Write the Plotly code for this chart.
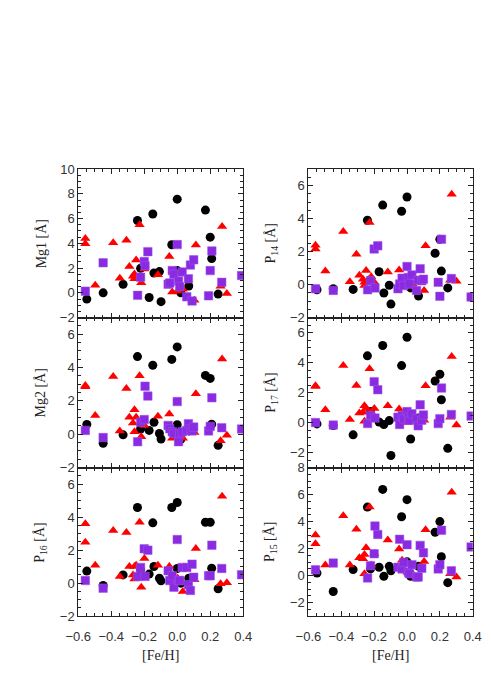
import plotly.graph_objects as go

# ---------------- data ----------------
circ_feh = [-0.548, -0.449, -0.328, -0.241, -0.222, -0.170, -0.148, -0.141, -0.108, -0.098,
            -0.033, 0.000, 0.000, 0.022, 0.070, 0.171, 0.200, 0.209, 0.248]
tri_feh = [-0.557, -0.557, -0.497, -0.388, -0.348, -0.308, -0.290, -0.268, -0.259, -0.259,
           -0.249, -0.228, -0.218, -0.199, -0.117, -0.048, -0.030, 0.003, 0.034, 0.104,
           0.113, 0.263, 0.272, 0.301]
sq_feh = [-0.557, -0.449, -0.240, -0.222, -0.200, -0.195, -0.178, -0.055, -0.045, -0.030,
          -0.020, 0.000, 0.008, 0.015, 0.030, 0.058, 0.068, 0.080, 0.090, 0.100,
          0.190, 0.200, 0.210, 0.270, 0.390]

mg1_circ = [-0.50, 0.00, 0.69, 5.85, 1.98, -0.37, 6.37, 1.61, 1.72, -0.71,
            3.89, 7.57, 1.80, 0.00, 0.56, 6.69, 4.50, 2.77, -0.10]
mg1_tri = [4.39, 3.97, 0.61, 4.05, 1.19, 4.26, 2.14, 1.35, 1.53, 1.14,
           2.65, 5.50, 0.82, 1.93, 1.46, 2.94, 0.08, 0.16, 0.30, -0.60,
           3.86, 0.53, 5.37, -0.05]
mg1_sq = [0.14, 2.43, -0.20, 1.27, 2.54, 2.20, 3.33, 0.70, 0.80, 1.80,
          1.50, 3.90, 0.95, 0.50, 1.69, -0.32, 1.14, 2.25, -0.66, 2.67,
          -0.24, 1.80, 3.39, 0.85, 1.40]

mg2_circ = [0.59, -0.55, -0.04, 4.66, 0.31, 0.23, 4.14, 0.72, 0.04, -0.29,
            4.49, 5.24, 0.57, -0.30, 0.20, 3.53, 3.35, 0.60, -0.67]
mg2_tri = [2.92, 2.85, 1.12, 3.47, 0.19, 2.74, 1.02, 0.68, 1.47, 0.14,
           1.02, 3.51, -0.16, 0.53, 1.08, 1.21, -0.25, -0.06, -0.25, 0.10,
           2.43, -0.39, 4.51, -0.06]
mg2_sq = [0.23, -0.20, -0.45, 0.72, 0.88, 2.88, 2.29, 0.53, 0.33, 0.14,
          0.04, 1.96, -0.45, 0.04, 0.14, 0.23, 0.63, 0.33, 0.20, 0.43,
          0.20, 0.47, 2.19, 0.39, 0.31]

p16_circ = [0.73, -0.14, 0.50, 4.58, 0.80, 0.55, 3.65, 1.01, 0.30, 0.14,
            4.58, 4.88, 0.89, 0.00, 0.30, 3.69, 3.69, 0.91, -0.34]
p16_tri = [3.59, 2.48, 1.09, 3.19, 0.41, 3.07, 1.01, 0.49, 1.01, 0.26,
           1.09, 3.69, -0.24, 1.49, 1.09, 1.01, 0.06, 0.30, -0.50, 0.20,
           2.10, -0.04, 5.26, 0.02]
p16_sq = [0.16, -0.30, 0.41, 0.95, 2.08, 0.41, 2.00, 0.75, 0.16, 0.45,
          -0.24, 2.64, 0.16, 0.16, 0.95, 0.95, -0.10, -0.44, 1.15, 0.36,
          0.45, 0.45, 2.30, 0.89, 0.51]

p14_circ = [-0.31, -0.25, -0.29, 3.90, 0.30, 0.78, 4.82, -0.51, -0.04, -1.18,
            4.45, 5.31, 0.14, -0.20, -0.69, 1.90, 2.75, 0.82, -0.20]
p14_tri = [2.39, 2.16, 0.82, 3.22, 0.18, 1.84, 0.57, 0.33, 0.14, -0.06,
           0.86, 3.76, 0.47, 0.14, 0.76, 0.88, 0.20, -0.10, 0.04, -0.35,
           2.35, 0.27, 5.47, 0.20]
p14_sq = [-0.25, -0.35, -0.31, 0.24, 2.16, -0.20, 2.35, -0.25, 0.04, 0.39,
          -0.06, 1.10, 0.43, 0.04, 0.59, -0.35, 0.27, 0.96, 0.24, 0.33,
          0.14, -0.71, 2.75, 0.37, -0.75]

p17_circ = [-0.09, -0.20, -0.82, 4.45, 0.73, 0.04, 5.14, -0.13, 0.13, -2.20,
            3.80, 5.69, 0.50, -1.10, 0.30, 2.77, 3.22, 1.52, -1.72]
p17_tri = [2.45, 2.40, 0.86, 3.80, 0.21, 2.47, 0.64, 0.69, 1.12, 0.08,
           0.94, 3.59, 0.69, 0.94, 1.12, 0.90, 0.40, 0.00, 0.15, 0.15,
           2.45, 0.36, 4.40, -0.17]
p17_sq = [0.00, -0.17, -0.07, 0.47, 2.73, 0.30, 2.19, 0.36, -0.13, 0.47,
          0.26, 0.73, 0.36, 0.15, 0.58, 0.26, -0.22, 1.18, 0.15, 0.51,
          -0.07, 0.26, 2.30, 0.54, 0.43]

p15_circ = [0.19, -1.17, 0.45, 5.07, 0.50, 0.62, 6.38, -0.05, 0.69, 0.36,
            4.36, 5.62, 1.02, -0.05, 0.69, 3.21, 4.00, 1.40, -0.52]
p15_tri = [3.00, 2.36, 0.79, 4.43, 0.79, 3.43, 1.33, 1.26, 1.57, 0.14,
           2.07, 5.07, 0.79, 1.64, 2.64, 1.98, 1.14, 0.26, 0.14, 1.05,
           3.40, 0.14, 6.17, -0.10]
p15_sq = [0.43, 0.93, -0.17, 0.74, 1.62, 3.67, 3.05, 0.62, 2.69, 0.50,
          0.98, 2.29, 0.26, 0.14, 0.81, -0.10, -0.10, 2.24, 0.55, 1.69,
          0.50, 0.81, 3.36, 0.36, 2.12]

panel_labels = ["Mg1 [Å]", "Mg2 [Å]", "P<sub>16</sub> [Å]",
                "P<sub>14</sub> [Å]", "P<sub>17</sub> [Å]", "P<sub>15</sub> [Å]"]
y_ranges = [[-2, 10], [-2, 7], [-2, 7], [-2, 7], [-3, 7], [-3, 8]]
x_range = [-0.6, 0.4]
x_label = "[Fe/H]"

panels = [
    (mg1_circ, mg1_tri, mg1_sq),
    (mg2_circ, mg2_tri, mg2_sq),
    (p16_circ, p16_tri, p16_sq),
    (p14_circ, p14_tri, p14_sq),
    (p17_circ, p17_tri, p17_sq),
    (p15_circ, p15_tri, p15_sq),
]

# ---------------- layout geometry ----------------
W, H = 491, 693
col_px = [(68.3, 241.0), (309.3, 481.3)]
row_px = [(165.7, 317.5), (317.5, 470.7), (470.7, 622.7)]

tick_font = dict(family="Liberation Sans, Arial, sans-serif", size=13, color="#333333")
lab_font = dict(family="Liberation Serif, DejaVu Serif, serif", size=14, color="#222222")

fig = go.Figure()
layout = dict(width=W, height=H, margin=dict(l=0, r=0, t=0, b=0),
              paper_bgcolor="white", plot_bgcolor="white", showlegend=False)
annotations = []

for i, (circ, tri, sq) in enumerate(panels):
    col = i // 3
    row = i % 3
    n = i + 1
    xa = "x" if n == 1 else f"x{n}"
    ya = "y" if n == 1 else f"y{n}"
    fig.add_trace(go.Scatter(x=circ_feh, y=circ, mode="markers", xaxis=xa, yaxis=ya,
                             marker=dict(symbol="circle", size=9, color="black",
                                         line=dict(width=0))))
    fig.add_trace(go.Scatter(x=tri_feh, y=tri, mode="markers", xaxis=xa, yaxis=ya,
                             marker=dict(symbol="triangle-up", size=9, color="#ff0000",
                                         line=dict(width=0))))
    fig.add_trace(go.Scatter(x=sq_feh, y=sq, mode="markers", xaxis=xa, yaxis=ya,
                             marker=dict(symbol="square", size=8.5, color="#8a2be2",
                                         line=dict(width=0.5, color="#9d55ea"))))

    x0, x1 = col_px[col]
    y0, y1 = row_px[row]
    xdom = [x0 / W, x1 / W]
    ydom = [1 - y1 / H, 1 - y0 / H]
    xkey = "xaxis" if n == 1 else f"xaxis{n}"
    ykey = "yaxis" if n == 1 else f"yaxis{n}"
    layout[xkey] = dict(domain=xdom, anchor=ya, range=x_range, dtick=0.2, tick0=-0.6,
                        tickformat=".1f", showgrid=False, zeroline=False,
                        showline=True, linecolor="#222", linewidth=1, mirror="allticks",
                        ticks="inside", ticklen=5, tickcolor="#222",
                        showticklabels=(row == 2), tickfont=tick_font,
                        ticklabelstandoff=8,
                        minor=dict(dtick=0.05, ticks="inside", ticklen=3, tickcolor="#222"))
    layout[ykey] = dict(domain=ydom, anchor=xa, range=y_ranges[i], dtick=2, tick0=0,
                        showgrid=False, zeroline=False,
                        showline=True, linecolor="#222", linewidth=1, mirror="allticks",
                        ticks="inside", ticklen=5, tickcolor="#222",
                        tickfont=tick_font,
                        minor=dict(dtick=0.5, ticks="inside", ticklen=3, tickcolor="#222"))
    annotations.append(dict(text=panel_labels[i], xref="paper", yref="paper",
                            x=(x0 - 39) / W, y=1 - (y0 + y1) / 2 / H,
                            xanchor="center", yanchor="middle", textangle=-90,
                            showarrow=False, font=lab_font))
    if row == 2:
        annotations.append(dict(text=x_label, xref="paper", yref="paper",
                                x=(x0 + x1) / 2 / W, y=1 - 663 / H,
                                xanchor="center", yanchor="middle",
                                showarrow=False, font=lab_font))

layout["annotations"] = annotations
fig.update_layout(**layout)
fig.write_html("out.html", config={"displayModeBar": False})

# remove default page margin so the figure sits at the window's top-left corner
with open("out.html", "r", encoding="utf-8") as f:
    html = f.read()
html = html.replace("<head>", "<head><style>html,body{margin:0;padding:0;overflow:hidden;}</style>", 1)
with open("out.html", "w", encoding="utf-8") as f:
    f.write(html)
